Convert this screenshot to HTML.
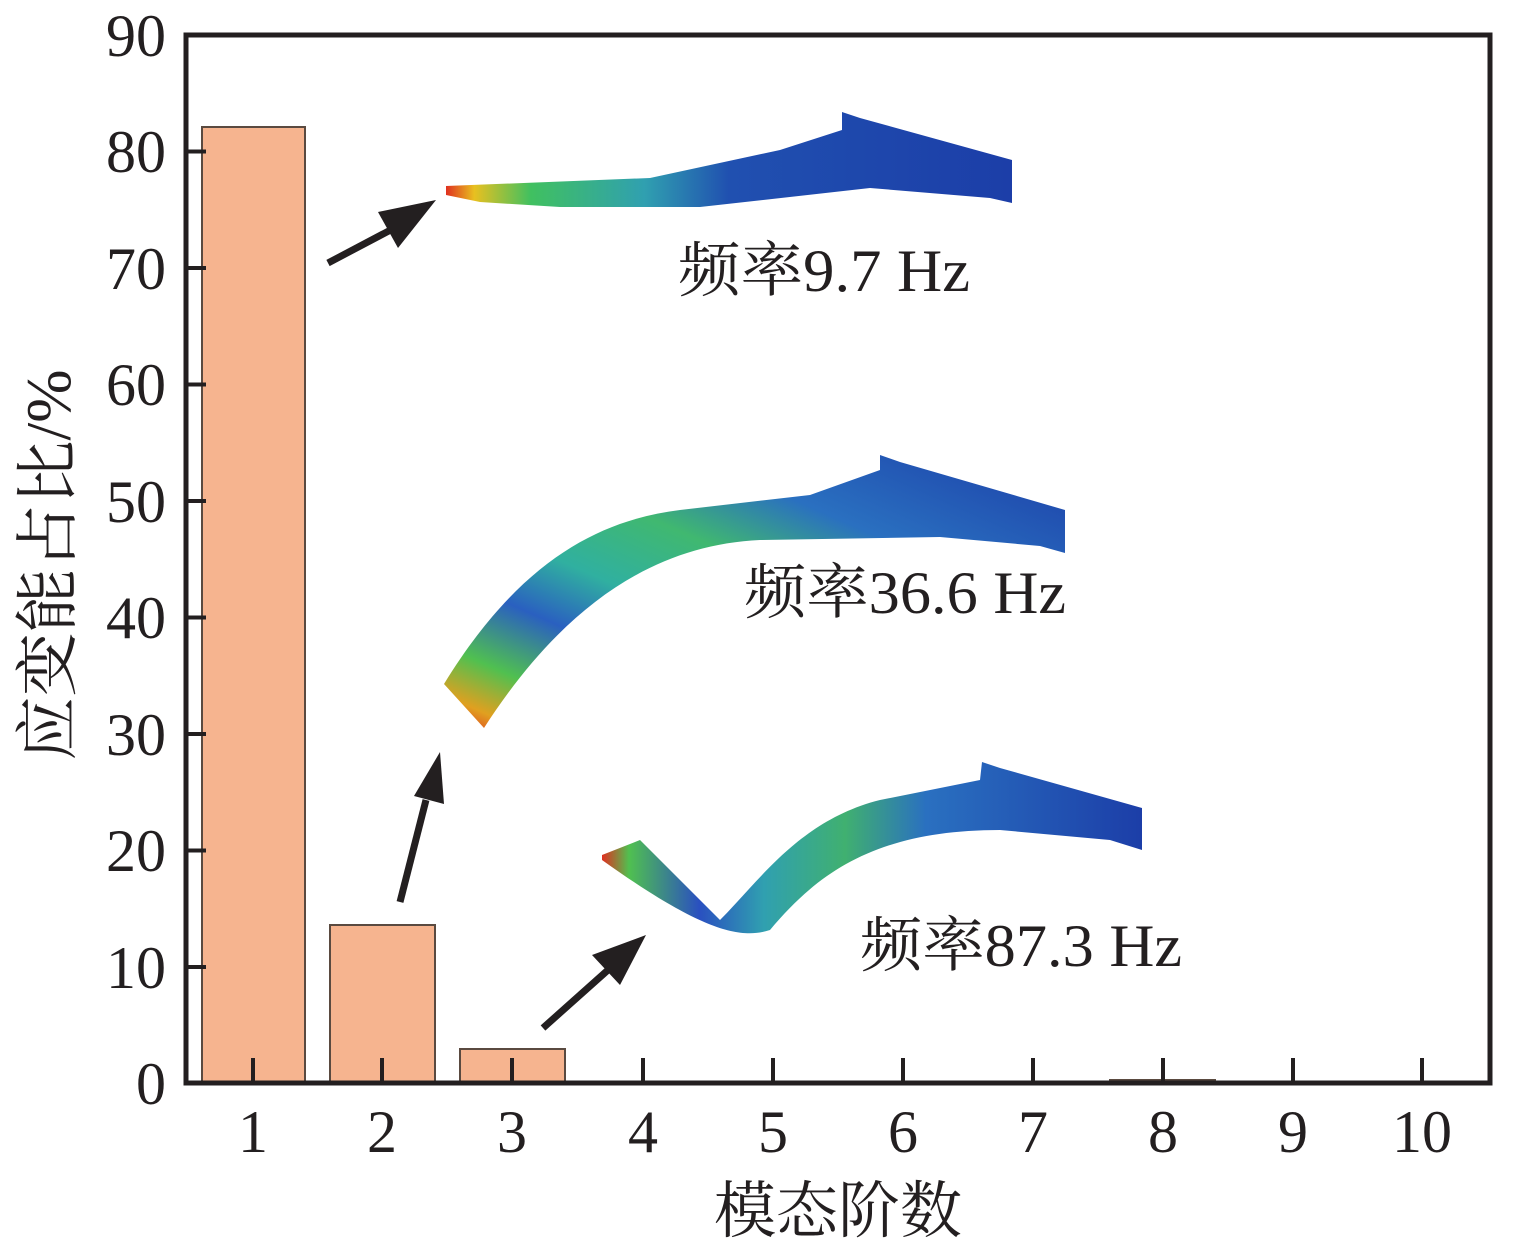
<!DOCTYPE html>
<html><head><meta charset="utf-8"><style>
html,body{margin:0;padding:0;background:#fff}
svg{display:block}
text{font-family:"Liberation Serif","Noto Serif CJK SC",serif;fill:#231f20}
</style></head><body>
<svg width="1534" height="1247" viewBox="0 0 1534 1247" xmlns="http://www.w3.org/2000/svg">
<defs>
<linearGradient id="g1" x1="0" y1="0" x2="1" y2="0">
<stop offset="0" stop-color="#e03020"/><stop offset="0.05" stop-color="#e8c020"/><stop offset="0.15" stop-color="#40c060"/><stop offset="0.35" stop-color="#30a0b0"/><stop offset="0.5" stop-color="#2050b0"/><stop offset="1" stop-color="#1c3ea8"/>
</linearGradient>
<linearGradient id="g2" x1="0" y1="1" x2="1" y2="0">
<stop offset="0" stop-color="#e03020"/><stop offset="0.06" stop-color="#e0a020"/><stop offset="0.15" stop-color="#50c050"/><stop offset="0.28" stop-color="#2a60c0"/><stop offset="0.4" stop-color="#30b0a0"/><stop offset="0.55" stop-color="#40b870"/><stop offset="0.7" stop-color="#2a70c0"/><stop offset="1" stop-color="#1c3ea8"/>
</linearGradient>
<linearGradient id="g3" x1="0" y1="0" x2="1" y2="0">
<stop offset="0" stop-color="#e03020"/><stop offset="0.05" stop-color="#50c050"/><stop offset="0.18" stop-color="#2a50c0"/><stop offset="0.3" stop-color="#30a0b0"/><stop offset="0.45" stop-color="#40b070"/><stop offset="0.6" stop-color="#2a70c0"/><stop offset="1" stop-color="#1c3ea8"/>
</linearGradient>
</defs>
<g fill="#f6b48f" stroke="#5a4a40" stroke-width="2">
<rect x="202" y="127" width="103" height="956"/>
<rect x="330" y="925" width="105" height="158"/>
<rect x="460" y="1049" width="105" height="34"/>
<rect x="1110" y="1080" width="105" height="3"/>
</g>
<rect x="186" y="35" width="1304" height="1048" fill="none" stroke="#231f20" stroke-width="5"/>
<g stroke="#231f20" stroke-width="4">
<line x1="186" y1="151.5" x2="206" y2="151.5"/><line x1="186" y1="268" x2="206" y2="268"/><line x1="186" y1="384.5" x2="206" y2="384.5"/><line x1="186" y1="501" x2="206" y2="501"/><line x1="186" y1="617.5" x2="206" y2="617.5"/><line x1="186" y1="734" x2="206" y2="734"/><line x1="186" y1="850.5" x2="206" y2="850.5"/><line x1="186" y1="967" x2="206" y2="967"/>
<line x1="253" y1="1083" x2="253" y2="1058"/><line x1="382" y1="1083" x2="382" y2="1058"/><line x1="512" y1="1083" x2="512" y2="1058"/><line x1="643" y1="1083" x2="643" y2="1058"/><line x1="773" y1="1083" x2="773" y2="1058"/><line x1="903" y1="1083" x2="903" y2="1058"/><line x1="1033" y1="1083" x2="1033" y2="1058"/><line x1="1163" y1="1083" x2="1163" y2="1058"/><line x1="1293" y1="1083" x2="1293" y2="1058"/><line x1="1422" y1="1083" x2="1422" y2="1058"/>
</g>
<g font-size="60" text-anchor="end">
<text x="166" y="1104">0</text><text x="166" y="988">10</text><text x="166" y="871">20</text><text x="166" y="755">30</text><text x="166" y="638">40</text><text x="166" y="522">50</text><text x="166" y="405">60</text><text x="166" y="289">70</text><text x="166" y="172">80</text><text x="166" y="56">90</text>
</g>
<g font-size="60" text-anchor="middle">
<text x="253" y="1152">1</text><text x="382" y="1152">2</text><text x="512" y="1152">3</text><text x="643" y="1152">4</text><text x="773" y="1152">5</text><text x="903" y="1152">6</text><text x="1033" y="1152">7</text><text x="1163" y="1152">8</text><text x="1293" y="1152">9</text><text x="1422" y="1152">10</text>
</g>
<text x="838" y="1232" font-size="62" text-anchor="middle">模态阶数</text>
<text transform="translate(70,565) rotate(-90)" font-size="64" text-anchor="middle">应变能占比/%</text>
<path d="M446 186 L650 178 L780 150 L842 130 L842 112 L860 118 L1012 160 L1012 203 L990 198 L870 188 L700 207 L560 207 L480 202 L446 195 Z" fill="url(#g1)"/>
<path d="M444 684 C520 560 600 520 680 510 L810 495 L880 470 L880 455 L900 462 L1065 510 L1065 553 L1040 546 L940 537 L760 540 C650 545 560 610 484 728 Z" fill="url(#g2)"/>
<path d="M602 855 L640 840 L720 920 C760 880 800 820 880 800 L980 780 L982 762 L1000 768 L1142 808 L1142 850 L1110 840 L1000 830 C880 830 820 870 770 930 C740 940 700 930 602 860 Z" fill="url(#g3)"/>
<g stroke="#231f20" stroke-width="7" fill="#231f20">
<line x1="328" y1="263" x2="400" y2="225"/>
<polygon points="436,200 378,212 398,248" stroke="none"/>
<line x1="400" y1="902" x2="426" y2="800"/>
<polygon points="440,752 414,796 444,804" stroke="none"/>
<line x1="543" y1="1028" x2="608" y2="970"/>
<polygon points="646,935 592,955 620,985" stroke="none"/>
</g>
<text x="678" y="291" font-size="60" textLength="292" lengthAdjust="spacingAndGlyphs">频率9.7 Hz</text>
<text x="744" y="613" font-size="60" textLength="322" lengthAdjust="spacingAndGlyphs">频率36.6 Hz</text>
<text x="860" y="966" font-size="60" textLength="322" lengthAdjust="spacingAndGlyphs">频率87.3 Hz</text>
</svg>
</body></html>
